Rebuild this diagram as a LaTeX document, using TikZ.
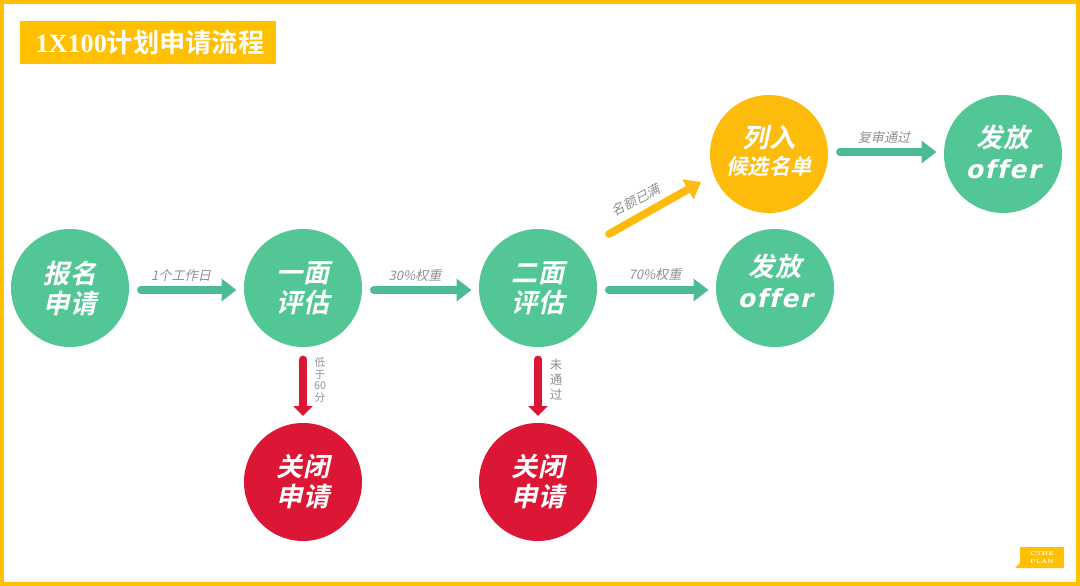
\documentclass[tikz,border=0pt]{standalone}
\usepackage{fontspec}
\usetikzlibrary{arrows.meta}
\newfontfamily\cjkslant[FakeSlant=0.22,AutoFakeBold=1.2]{Noto Sans CJK SC Bold}
\newfontfamily\cjklabel[FakeSlant=0.22]{Noto Sans CJK SC}
\newfontfamily\cjkplain{Noto Sans CJK SC}
\newfontfamily\cjktitle[AutoFakeBold=1.5]{Noto Sans CJK SC Bold}
\newfontfamily\latintitle{Liberation Serif Bold}
\newfontfamily\offerfont[FakeSlant=0.22,LetterSpace=6,Ligatures=NoCommon]{DejaVu Sans Bold}
\definecolor{cffc000}{RGB}{255,192,0}
\definecolor{cfdbb0c}{RGB}{253,187,12}
\definecolor{c52c795}{RGB}{82,199,149}
\definecolor{c4dbb94}{RGB}{77,187,148}
\definecolor{cdc1735}{RGB}{220,23,53}
\definecolor{c8f8f8f}{RGB}{143,143,143}
\tikzset{
  stagegreen/.style={circle,fill=c52c795,minimum size=94.4pt,text=white,align=center},
  stagered/.style={stagegreen,fill=cdc1735},
  stageyellow/.style={stagegreen,fill=cfdbb0c},
  stagetext/.style={font=\cjkslant\fontsize{21}{24}\selectfont},
  flowarrow/.style={line width=6.2pt,-{Triangle[width=17.6pt,length=12pt]},line cap=round,shorten <=9.5pt,shorten >=6pt},
  redarrow/.style={flowarrow,cdc1735,-{Triangle[width=15.5pt,length=8pt]},shorten <=10pt,shorten >=5.6pt},
  flowlabel/.style={text=c8f8f8f,font=\cjklabel\fontsize{10.5}{12}\selectfont},
  sidelabel/.style={text=c8f8f8f,align=center,font=\cjkplain\fontsize{8.5}{9.5}\selectfont},
}

\begin{document}
\begin{tikzpicture}[y=0.80pt, x=0.8pt,yscale=-1, inner sep=0pt, outer sep=0pt]
  \useasboundingbox (0,0) rectangle (1080,586);
  \path[draw=cffc000,line width=3.2pt] (2,2) rectangle (1078,584);
  % title
  \path[fill=cffc000] (20,21) rectangle (276,64);
  \path (150,43) node[text=white] (title) {\latintitle\fontsize{21}{24}\selectfont 1X100\cjktitle 计划申请流程};
  % stages
  \path (70,288) node[stagegreen,stagetext] (apply) {报名\\申请};
  \path (303,288) node[stagegreen,stagetext] (first) {一面\\评估};
  \path (538,288) node[stagegreen,stagetext] (second) {二面\\评估};
  \path (775,288) node[stagegreen] (offera) {{\cjkslant\fontsize{21}{24}\selectfont 发放}\\[6.6pt]{\offerfont\fontsize{20}{24}\selectfont offer}\rule[-12pt]{0pt}{12pt}};
  \path (769,154) node[stageyellow] (waitlist) {{\cjkslant\fontsize{21}{24}\selectfont 列入}\\[4pt]{\cjkslant\fontsize{17}{20}\selectfont 候选名单}\rule[-6pt]{0pt}{6pt}};
  \path (1003,154) node[stagegreen] (offerb) {{\cjkslant\fontsize{21}{24}\selectfont 发放}\\[6.6pt]{\offerfont\fontsize{20}{24}\selectfont offer}\rule[-4pt]{0pt}{4pt}};
  \path (303,482) node[stagered,stagetext] (closea) {关闭\\申请};
  \path (538,482) node[stagered,stagetext] (closeb) {关闭\\申请};
  % arrows
  \draw[flowarrow,c4dbb94] ([yshift=1.6pt]apply.east) -- ([yshift=1.6pt]first.west);
  \draw[flowarrow,c4dbb94] ([yshift=1.6pt]first.east) -- ([yshift=1.6pt]second.west);
  \draw[flowarrow,c4dbb94] ([yshift=1.6pt]second.east) -- ([yshift=1.6pt]offera.west);
  \draw[flowarrow,c4dbb94] ([yshift=-1.6pt]waitlist.east) -- ([yshift=-1.6pt]offerb.west);
  \coordinate (fullout) at (609,234);
  \coordinate (fullin) at (701,182);
  \draw[flowarrow,cfdbb0c,shorten <=0pt,shorten >=0pt] (fullout) -- (fullin);
  \draw[redarrow] (first.south) -- (closea.north);
  \draw[redarrow] (second.south) -- (closeb.north);
  % labels
  \path (181,275) node[flowlabel] (lbldays) {1个工作日};
  \path (415,276) node[flowlabel] (lblthirty) {30\%权重};
  \path (655,275) node[flowlabel] (lblseventy) {70\%权重};
  \path (884,137) node[flowlabel] (lblreview) {复审通过};
  \path (636,200) node[flowlabel,rotate=27] (lblquota) {名额已满};
  \path (320,380) node[sidelabel] (lbllow) {低\\于\\60\\分};
  \path (556,380) node[sidelabel,font=\cjkplain\fontsize{10}{12}\selectfont] (lblfail) {未\\通\\过};
  % badge
  \path[fill=cffc000] (1020,547) -- (1064,547) -- (1064,568) -- (1015,568) -- (1020,563) -- cycle;
  \path (1042,557.5) node[text=white,align=center,font=\fontsize{4.5}{6}\selectfont\bfseries] (badge) {CTHE\\PLAN};
\end{tikzpicture}
\end{document}
